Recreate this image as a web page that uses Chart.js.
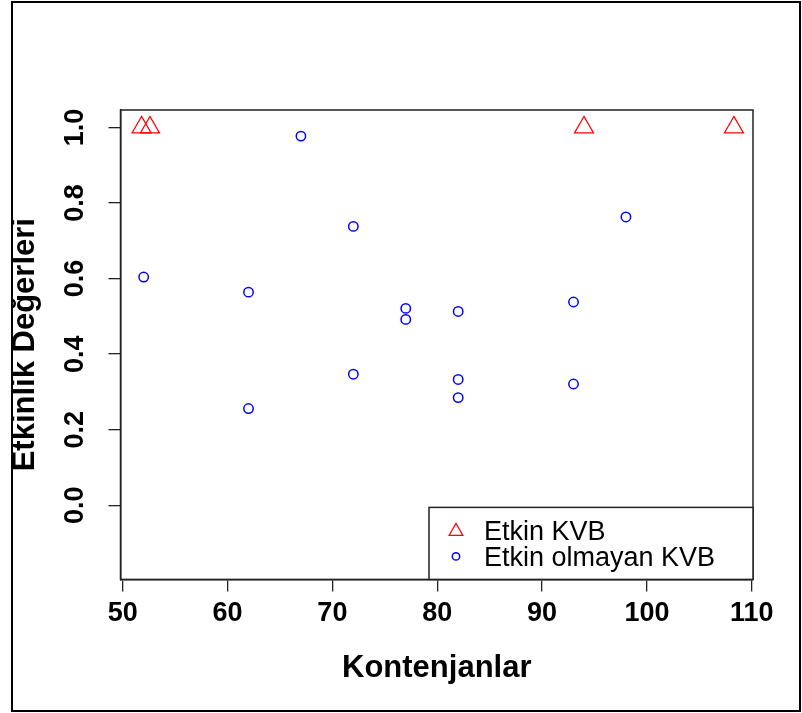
<!DOCTYPE html>
<html><head><meta charset="utf-8">
<script src="https://cdn.jsdelivr.net/npm/chart.js@4.4.1/dist/chart.umd.min.js"></script>
<style>html,body{margin:0;padding:0;background:#fff;} #wrap{width:802px;height:713px;}</style>
</head><body><div id="wrap"><canvas id="c" width="802" height="713"></canvas></div>
<script>
const seriesNames = ["Etkin KVB", "Etkin olmayan KVB"];
const etkinX = [51.8, 52.6, 94, 108.3];
const etkinY = [1.0, 1.0, 1.0, 1.0];
const etkinOlmayanX = [52, 62, 62, 67, 72, 72, 77, 77, 82, 82, 82, 93, 93, 98];
const etkinOlmayanY = [0.604, 0.564, 0.256, 0.977, 0.738, 0.347, 0.521, 0.492, 0.513, 0.333, 0.285, 0.538, 0.321, 0.763];
const xTicks = [50, 60, 70, 80, 90, 100, 110];
const yTicks = [0.0, 0.2, 0.4, 0.6, 0.8, 1.0];
const xTitle = "Kontenjanlar";
const yTitle = "Etkinlik Değerleri";

const FONT = "'Liberation Sans', Arial, sans-serif";
const toPts = (xs, ys) => xs.map((x, i) => ({x: x, y: ys[i]}));

const boxPlugin = {
  id: 'boxAndLegend',
  afterDraw(chart) {
    const ctx = chart.ctx, a = chart.chartArea;
    ctx.save();
    // plot box
    ctx.strokeStyle = '#222';
    ctx.lineWidth = 1.5;
    ctx.strokeRect(a.left, a.top, a.right - a.left, a.bottom - a.top);
    // outer frame
    ctx.strokeStyle = '#000';
    ctx.lineWidth = 2;
    ctx.strokeRect(12, 2, 788, 709);
    // legend
    const lw = 324, lh = 72;
    const lx = a.right - lw, ly = a.bottom - lh;
    ctx.fillStyle = '#fff';
    ctx.fillRect(lx, ly, lw, lh);
    ctx.strokeStyle = '#222';
    ctx.lineWidth = 1.5;
    ctx.strokeRect(lx, ly, lw, lh);
    ctx.font = "27px " + FONT;
    ctx.textBaseline = 'middle';
    ctx.textAlign = 'left';
    const rows = [23, 49];
    const radii = [8, 3.7];
    chart.data.datasets.forEach((ds, i) => {
      const y = ly + rows[i];
      ctx.strokeStyle = ds.borderColor;
      ctx.fillStyle = 'rgba(0,0,0,0)';
      ctx.lineWidth = ds.borderWidth;
      Chart.helpers.drawPoint(ctx, {pointStyle: ds.pointStyle, radius: radii[i], rotation: 0, borderWidth: ds.borderWidth}, lx + 27, y + (i === 0 ? 1 : 0));
      ctx.fillStyle = '#000';
      ctx.fillText(ds.label, lx + 55, y + 2);
    });
    ctx.restore();
  }
};

new Chart(document.getElementById('c'), {
  type: 'scatter',
  data: {
    datasets: [
      {label: seriesNames[0], data: toPts(etkinX, etkinY), pointStyle: 'triangle', pointRadius: 11, pointHoverRadius: 11,
       borderColor: '#FF0000', backgroundColor: 'rgba(0,0,0,0)', borderWidth: 1.2, clip: false},
      {label: seriesNames[1], data: toPts(etkinOlmayanX, etkinOlmayanY), pointStyle: 'circle', pointRadius: 4.7, pointHoverRadius: 4.7,
       borderColor: '#0000FF', backgroundColor: 'rgba(0,0,0,0)', borderWidth: 1.5, clip: false}
    ]
  },
  options: {
    responsive: false, animation: false, devicePixelRatio: 1,
    layout: {padding: {left: 7, top: 110, right: 49, bottom: 26}},
    plugins: {legend: {display: false}, tooltip: {enabled: false}},
    scales: {
      x: {
        type: 'linear', min: 49.79, max: 110.12,
        afterBuildTicks: s => { s.ticks = xTicks.map(v => ({value: v})); },
        afterFit: s => { s.height = 107.6; },
        ticks: {font: {family: FONT, size: 27, weight: 'bold'}, color: '#000', padding: 6, maxRotation: 0, autoSkip: false,
                callback: v => String(v)},
        grid: {drawOnChartArea: false, drawTicks: true, tickLength: 12, color: '#222', lineWidth: 1.3},
        border: {display: true, color: '#222', width: 1.5},
        title: {display: true, text: xTitle, font: {family: FONT, size: 31, weight: 'bold'}, color: '#000', padding: 0}
      },
      y: {
        type: 'linear', min: -0.196, max: 1.046,
        afterBuildTicks: s => { s.ticks = yTicks.map(v => ({value: v})); },
        afterFit: s => { s.width = 113.5; },
        ticks: {font: {family: FONT, size: 27, weight: 'bold'}, color: '#000', padding: 14, minRotation: 90, maxRotation: 90,
                crossAlign: 'center', autoSkip: false, callback: v => Number(v).toFixed(1)},
        grid: {drawOnChartArea: false, drawTicks: true, tickLength: 12, color: '#222', lineWidth: 1.3},
        border: {display: true, color: '#222', width: 1.5},
        title: {display: true, text: yTitle, font: {family: FONT, size: 31, weight: 'bold'}, color: '#000', padding: 0}
      }
    }
  },
  plugins: [boxPlugin]
});
</script></body></html>
